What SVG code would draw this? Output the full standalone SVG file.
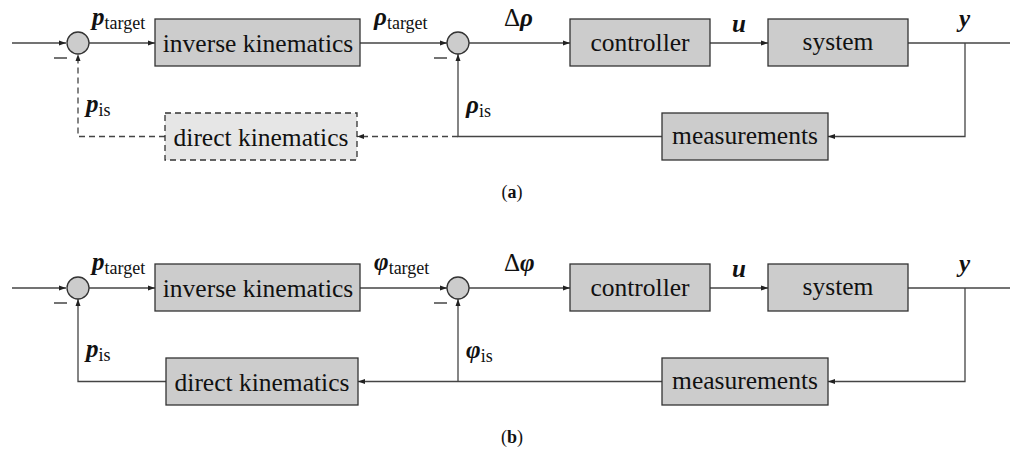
<svg xmlns="http://www.w3.org/2000/svg" width="1010" height="455" viewBox="0 0 1010 455">
<style>
.box{fill:#cccccc;stroke:#333;stroke-width:1.3}
.dbox{fill:#e6e6e6;stroke:#333;stroke-width:1.3;stroke-dasharray:6 4}
.sum{fill:#cccccc;stroke:#333;stroke-width:1.3}
.ln{fill:none;stroke:#444;stroke-width:1.3}
.dl{fill:none;stroke:#444;stroke-width:1.3;stroke-dasharray:6 4}
text{font-family:'Liberation Serif','Times New Roman',serif;fill:#111}
.t{font-size:25.5px;text-anchor:middle}
.m{font-size:25px;font-style:italic;font-weight:bold}
.n{font-style:normal;font-weight:normal}
.s{font-size:18px;font-style:normal;font-weight:normal}
.cap{font-size:18px;text-anchor:middle}
</style>
<defs>
<marker id="ah" markerWidth="8" markerHeight="6" refX="7" refY="3" orient="auto" markerUnits="userSpaceOnUse">
<path d="M0,0.5 L7,3 L0,5.5 Z" fill="#222"/>
</marker>
</defs>

<g id="connectors-a">
<path class="ln" d="M12,43 H66" marker-end="url(#ah)"/>
<path class="ln" d="M89,43 H155" marker-end="url(#ah)"/>
<path class="ln" d="M360,43 H447" marker-end="url(#ah)"/>
<path class="ln" d="M469,43 H570" marker-end="url(#ah)"/>
<path class="ln" d="M710,43 H768" marker-end="url(#ah)"/>
<path class="ln" d="M908,43 H1010"/>
<path class="ln" d="M965,43 V136.5 H828" marker-end="url(#ah)"/>
<path class="ln" d="M662,136.5 H458 V54" marker-end="url(#ah)"/>
<path class="dl" d="M458,136.5 H357" marker-end="url(#ah)"/>
<path class="dl" d="M165,136.5 H78 V54" marker-end="url(#ah)"/>
<path d="M54,58 H67" stroke="#444" stroke-width="1.5"/>
<path d="M434,58 H447" stroke="#444" stroke-width="1.5"/>
</g>
<g id="sum1a"><circle class="sum" cx="78" cy="43" r="11"/></g>
<g id="sum2a"><circle class="sum" cx="458" cy="43" r="11"/></g>
<g id="invkin-a"><rect class="box" x="155" y="19" width="205" height="47"/><text class="t" x="258" y="52">inverse kinematics</text></g>
<g id="controller-a"><rect class="box" x="570" y="19" width="140" height="47"/><text class="t" x="640" y="51">controller</text></g>
<g id="system-a"><rect class="box" x="768" y="19" width="140" height="47"/><text class="t" x="838" y="50">system</text></g>
<g id="measure-a"><rect class="box" x="662" y="113" width="166" height="47"/><text class="t" x="745" y="143.5">measurements</text></g>
<g id="dirkin-a"><rect class="dbox" x="165" y="113" width="192" height="47"/><text class="t" x="261" y="146">direct kinematics</text></g>
<g id="labels-a">
<text class="m" x="92" y="25">p<tspan class="s" dy="4">target</tspan></text>
<text class="m" x="374" y="25">ρ<tspan class="s" dy="4">target</tspan></text>
<text class="m" x="504" y="26"><tspan class="n">Δ</tspan>ρ</text>
<text class="m" x="732" y="32">u</text>
<text class="m" x="959" y="27">y</text>
<text class="m" x="86" y="112">p<tspan class="s" dy="4">is</tspan></text>
<text class="m" x="466" y="113">ρ<tspan class="s" dy="4">is</tspan></text>
</g>
<text class="cap" x="512" y="198">(<tspan font-weight="bold">a</tspan>)</text>

<g id="connectors-b">
<path class="ln" d="M12,288 H66" marker-end="url(#ah)"/>
<path class="ln" d="M89,288 H155" marker-end="url(#ah)"/>
<path class="ln" d="M360,288 H447" marker-end="url(#ah)"/>
<path class="ln" d="M469,288 H570" marker-end="url(#ah)"/>
<path class="ln" d="M710,288 H768" marker-end="url(#ah)"/>
<path class="ln" d="M908,288 H1010"/>
<path class="ln" d="M965,288 V381.5 H828" marker-end="url(#ah)"/>
<path class="ln" d="M662,381.5 H358" marker-end="url(#ah)"/>
<path class="ln" d="M458,381.5 V299" marker-end="url(#ah)"/>
<path class="ln" d="M166,381.5 H78 V299" marker-end="url(#ah)"/>
<path d="M54,303 H67" stroke="#444" stroke-width="1.5"/>
<path d="M434,303 H447" stroke="#444" stroke-width="1.5"/>
</g>
<g id="sum1b"><circle class="sum" cx="78" cy="288" r="11"/></g>
<g id="sum2b"><circle class="sum" cx="458" cy="288" r="11"/></g>
<g id="invkin-b"><rect class="box" x="155" y="264" width="205" height="47"/><text class="t" x="258" y="297">inverse kinematics</text></g>
<g id="controller-b"><rect class="box" x="570" y="264" width="140" height="47"/><text class="t" x="640" y="296">controller</text></g>
<g id="system-b"><rect class="box" x="768" y="264" width="140" height="47"/><text class="t" x="838" y="295">system</text></g>
<g id="measure-b"><rect class="box" x="662" y="358" width="166" height="47"/><text class="t" x="745" y="388.5">measurements</text></g>
<g id="dirkin-b"><rect class="box" x="166" y="358" width="192" height="47"/><text class="t" x="262" y="391">direct kinematics</text></g>
<g id="labels-b">
<text class="m" x="92" y="270">p<tspan class="s" dy="4">target</tspan></text>
<text class="m" x="374" y="270">φ<tspan class="s" dy="4">target</tspan></text>
<text class="m" x="504" y="271"><tspan class="n">Δ</tspan>φ</text>
<text class="m" x="732" y="277">u</text>
<text class="m" x="959" y="272">y</text>
<text class="m" x="86" y="357">p<tspan class="s" dy="4">is</tspan></text>
<text class="m" x="466" y="358">φ<tspan class="s" dy="4">is</tspan></text>
</g>
<text class="cap" x="512" y="443">(<tspan font-weight="bold">b</tspan>)</text>
</svg>
